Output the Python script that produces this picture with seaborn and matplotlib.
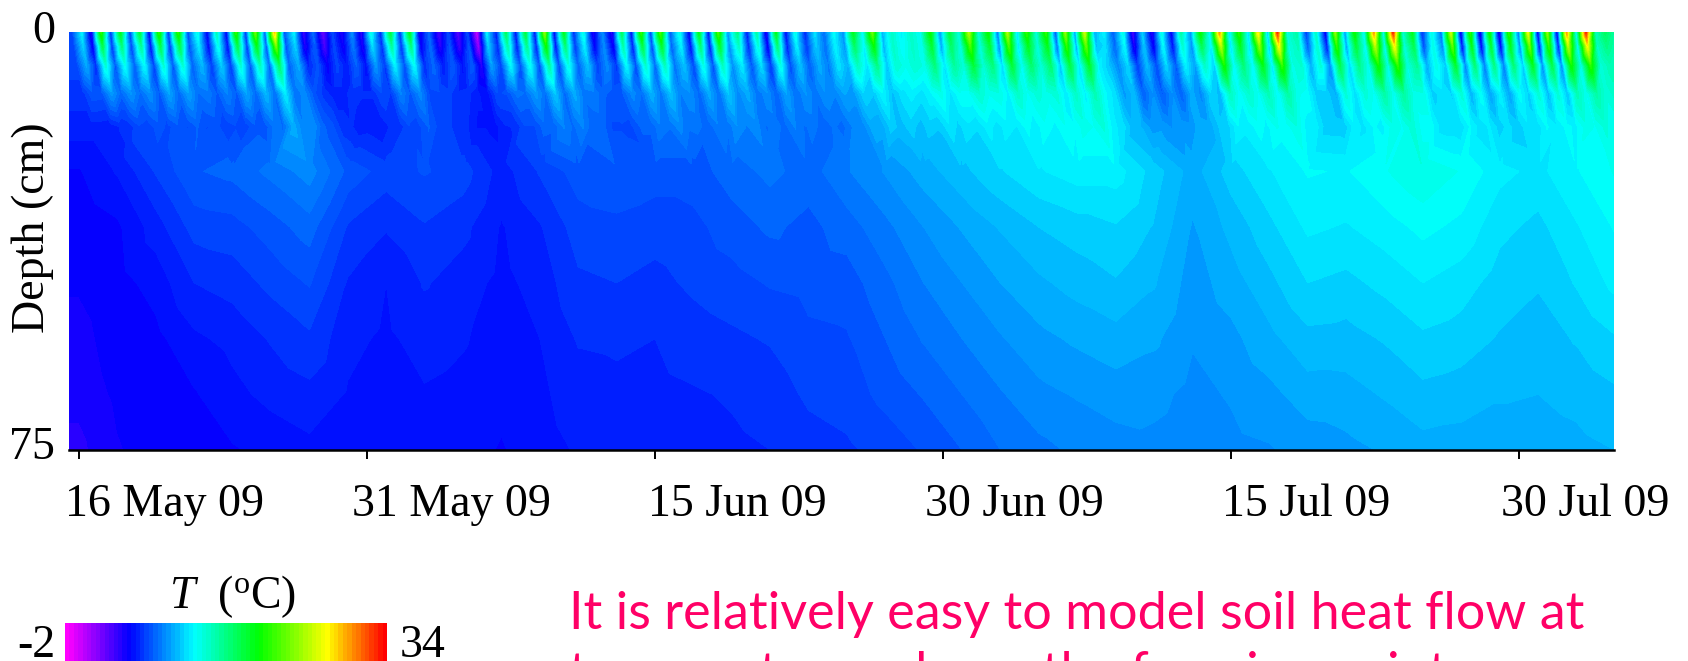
import numpy as np
import seaborn as sns
import matplotlib
matplotlib.use('Agg')
from matplotlib import pyplot as plt
from matplotlib.colors import LinearSegmentedColormap
from matplotlib.transforms import ScaledTranslation

# soil temperature (deg C), one peak and one trough per day
peaks_0cm = [12, 21, 19, 18, 21, 21, 13, 14.5, 21, 23, 29, 12, 8, 7, 9, 13, 18, 19, 8, 7,
             7, 12, 17, 18, 24, 19, 13, 9, 17, 21, 22, 13, 19, 22, 16, 15, 19, 13, 11.5, 12.5,
             19, 23, 14, 14, 20, 18, 25, 20, 25, 21, 21, 24, 26, 12, 13, 11, 13, 15, 20, 30,
             21, 28, 33, 15, 14, 24, 20, 30, 33, 19, 13, 26, 21, 20, 21, 27, 24, 30, 33, 17]
troughs_0cm = [3.5, 6, 6.5, 4.5, 6, 7, 4.5, 4.5, 6, 7, 7, 3, 2, 4, 3.5, 6, 6, 4, 3, 2.5,
               -1, 5.5, 5, 5, 4.5, 6, 4, 3.5, 5, 6.5, 7.5, 4.5, 5, 9, 5.5, 3.5, 5, 6, 8, 9,
               12, 10, 12, 12.5, 9, 13, 13, 8, 11, 13, 7, 9, 10, 7.5, 2.5, 3.5, 4.5, 9, 12, 11,
               11, 10, 13, 6.5, 4, 9, 12, 12, 13, 6, 8, 3.5, 3, 3, 8, 4, 4, 12, 14, 15]

peaks_2cm = [11, 17.5, 16, 15.3, 17.5, 17.5, 11.7, 12.8, 17.5, 19, 23.2, 11, 7.7, 7, 8.4, 11.3, 15.2, 16, 8, 7.3,
             7.3, 10.9, 14.8, 15.5, 19.8, 16.2, 11.9, 9, 14.8, 17.6, 18.4, 11.9, 16.2, 18.4, 14, 13.3, 16.2, 11.9, 10.8, 12,
             16.8, 19.6, 13.9, 13.9, 18.2, 16.7, 21.8, 18.2, 21.8, 18.9, 18.9, 21, 22.5, 11.4, 12.2, 10.7, 12.2, 13.6, 17.2, 25.2,
             18.8, 23.8, 27.4, 14.4, 13.7, 20.9, 18, 25.2, 27.4, 17.3, 13, 22.4, 18.8, 18, 18.8, 23, 20.9, 25.2, 27.4, 15.9]
troughs_2cm = [4.3, 6.4, 6.8, 5.1, 6.4, 7.2, 5.1, 5.1, 6.4, 7.2, 7.2, 3.8, 2.8, 4.5, 4, 6.2, 6.3, 4.6, 3.8, 3.3,
               0.4, 5.9, 5.6, 5.6, 5.2, 6.5, 4.8, 4.3, 5.6, 6.9, 7.7, 5.2, 5.6, 9, 6, 4.3, 5.6, 6.5, 8.2, 9.3,
               11.9, 10.2, 12.2, 12.7, 9.7, 13, 13, 8.8, 11.4, 13, 8, 9.7, 10.5, 7.9, 3.6, 4.5, 5.3, 9.2, 11.7, 11.3,
               11.3, 10.5, 13, 7.5, 5.4, 9.6, 12.2, 12.2, 13, 7, 8.8, 4.9, 4.5, 4.5, 8.8, 5.4, 5.4, 12.2, 13.9, 14.7]

peaks_6cm = [9.9, 13.5, 12.7, 12.3, 13.5, 13.5, 10.3, 10.9, 13.5, 14.3, 16.7, 9.9, 7.4, 7, 7.8, 9.4, 12, 12.4, 8, 7.6,
             7.6, 9.6, 12.2, 12.6, 15, 13, 10.6, 9, 12.2, 13.8, 14.2, 10.6, 13, 14.2, 11.8, 11.4, 13, 10.6, 10, 11.6,
             14.2, 15.8, 13.7, 13.7, 16.1, 15.3, 18, 16.1, 18, 16.5, 16.5, 17.7, 18.5, 10.8, 11.2, 10.4, 11.2, 12, 14, 20,
             16.2, 19, 21, 13.8, 13.4, 17.4, 15.8, 20, 21, 15.4, 13, 18.2, 16.2, 15.8, 16.2, 18.6, 17.4, 20, 21, 14.6]
troughs_6cm = [6.3, 7.4, 7.6, 6.7, 7.4, 7.8, 6.7, 6.7, 7.4, 7.8, 7.8, 6, 4.8, 5.7, 5.4, 6.6, 7.1, 6.2, 5.8, 5.5,
               3.9, 6.9, 7.2, 7.2, 7, 7.7, 6.8, 6.5, 7.2, 7.9, 8.3, 7, 7.2, 9, 7.4, 6.5, 7.2, 7.7, 8.6, 10.1,
               11.5, 10.6, 12.8, 13, 11.5, 13.3, 13.3, 11.2, 12.4, 13.3, 10.6, 11.5, 12, 8.9, 6.6, 7.1, 7.5, 9.6, 10.9, 12.1,
               12.1, 11.7, 13, 10.1, 9, 11.2, 12.6, 12.6, 13, 9.9, 10.8, 8.7, 8.5, 8.5, 10.8, 9, 9, 12.6, 13.4, 13.9]

peaks_11cm = [7.6, 9.5, 9.3, 9.2, 9.8, 9.7, 8.6, 8.8, 9.8, 10.3, 11.8, 9, 6.5, 6, 6.3, 7.2, 8.8, 9, 7.2, 6.3,
              5.8, 7.2, 8.4, 9.5, 10.8, 10, 8.6, 7.5, 9, 10.2, 10.6, 9.2, 10, 10.8, 10, 9.2, 9.8, 9.3, 9.2, 9.8,
              11.2, 12.2, 11.5, 11.5, 13, 12.7, 13.8, 13.2, 14, 13.5, 13.5, 14, 14.5, 11.5, 10.5, 9.2, 9.2, 10, 11.2, 14.2,
              13.8, 14.5, 15, 12.5, 11, 13.5, 13.5, 15, 15.2, 13.2, 11.5, 13.5, 12.5, 12, 12.5, 13.5, 13.5, 14.5, 15, 14]
troughs_11cm = [7.5, 8, 8.1, 7.6, 8, 8.2, 7.6, 7.6, 8, 8.2, 8.3, 7.4, 6, 6.5, 6.3, 6.7, 7.6, 7.1, 6.9, 6.4,
                5.5, 7.3, 8.2, 8.2, 8, 8.4, 7.9, 7.7, 8.2, 8.5, 8.7, 8, 8.2, 9, 8.3, 7.8, 8.2, 8.4, 8.8, 9.5,
                10.8, 10.6, 12, 12.2, 11.6, 12.7, 12.8, 12, 12.6, 13, 11.7, 12, 12.4, 9.5, 7.7, 7.6, 7.8, 9, 10.5, 12.4,
                12.6, 12.2, 12.9, 10.9, 10.1, 11.4, 12.6, 12.6, 13, 11, 11.2, 10.2, 9.7, 9.8, 11, 10.4, 10.6, 12.7, 13.4, 13.5]

peaks_17cm = [6, 6.3, 7.2, 7.5, 7.6, 7.8, 7.4, 7.2, 7.6, 8.4, 10, 9.2, 7.4, 6.3, 6, 6.3, 7.2, 7.8, 7, 6.3,
              5.7, 6.2, 7.2, 8, 8.8, 8.8, 8, 7.2, 7.8, 8.6, 9, 8.4, 8.6, 9.2, 9, 8.4, 8.8, 8.4, 8.3, 8.8,
              10, 11, 11, 11, 11.6, 11.6, 12, 12, 12.4, 12.6, 12.7, 13, 13.4, 11.5, 10.2, 9.6, 9.6, 10, 10.8, 12.2,
              12.5, 12.8, 13.2, 12, 11, 12, 12.3, 13, 13.5, 12.5, 11.5, 12.3, 11.8, 11.4, 11.6, 12.3, 12.4, 13, 13.4, 13]
troughs_17cm = [5.9, 6.5, 7, 7.1, 7.2, 7.2, 6.9, 6.9, 7.4, 8.2, 8.8, 7.9, 6.5, 5.9, 5.8, 6.4, 7.1, 7.1, 6.3, 5.7,
                5.6, 6.3, 7.2, 7.9, 8.1, 7.9, 7.2, 7.1, 7.8, 8.3, 8.3, 7.9, 8.3, 8.7, 8.2, 8.1, 8.2, 7.9, 8.1, 8.9,
                9.9, 10.5, 10.5, 10.8, 11.1, 11.3, 11.5, 11.7, 12, 12.1, 12.3, 12.7, 11.9, 10.4, 9.5, 9.2, 9.4, 9.9, 11.1, 11.9,
                12.1, 12.5, 12.1, 11, 10.9, 11.6, 12.1, 12.7, 12.5, 11.5, 11.3, 11.5, 11, 10.9, 11.4, 11.8, 12.1, 12.7, 12.7, 12.9]

# deep rows, one value every two days from 16 May
deep_25cm = [5.2, 5.8, 6.8, 7.7, 7.9, 8.4, 9, 7.6, 7, 7.3, 7, 6, 6.8, 7.5, 7.7, 7.5, 7.5, 8, 8.4, 8,
             8.7, 9.3, 10, 10.6, 11.2, 11.7, 12, 12, 11, 10, 11, 11.7, 12.3, 12.2, 12.7, 13.2, 12.7, 11.9, 11.6, 12.2, 12.8]
deep_35cm = [4.85, 5.15, 6, 6.95, 7.05, 7.5, 8, 6.7, 6.3, 6.7, 6.4, 5.7, 6.2, 7, 7.1, 6.95, 7.1, 7.5, 7.85, 7.6,
             8, 8.6, 9.25, 9.8, 10.3, 10.75, 11, 11.2, 10.7, 9.7, 10.4, 11.1, 11.85, 11.7, 12, 12.4, 12.1, 11.4, 11.1, 11.7, 12.3]
deep_45cm = [4.8, 5.05, 5.45, 6.25, 6.45, 6.9, 7.3, 6.2, 5.75, 6.3, 6, 5.6, 5.95, 6.65, 6.75, 6.6, 6.85, 7.05, 7.3, 7.4,
             7.5, 8.1, 8.75, 9.25, 9.75, 10.15, 10.45, 10.7, 10.3, 9.5, 10, 10.6, 11.25, 11.1, 11.4, 11.75, 11.5, 11, 10.8, 11.3, 11.9]
deep_55cm = [4.6, 4.95, 5.1, 5.65, 5.9, 6.3, 6.65, 5.9, 5.65, 5.95, 5.8, 5.5, 5.75, 6.3, 6.35, 6.25, 6.5, 6.65, 6.8, 7.15,
             7.2, 7.75, 8.3, 8.75, 9.2, 9.6, 9.85, 10.05, 9.85, 9.3, 9.6, 10.1, 10.6, 10.55, 10.8, 11.15, 11, 10.7, 10.5, 10.8, 11.2]
deep_65cm = [4.4, 4.85, 5, 5.2, 5.6, 5.9, 6.1, 5.7, 5.6, 5.7, 5.6, 5.4, 5.65, 6, 6.1, 6.1, 6.2, 6.3, 6.45, 6.85,
             7, 7.4, 7.8, 8.25, 8.7, 9.1, 9.3, 9.5, 9.4, 9.1, 9.3, 9.6, 10, 10.05, 10.3, 10.6, 10.5, 10.3, 10.25, 10.4, 10.65]
deep_75cm = [4.1, 4.7, 5, 5.02, 5.2, 5.4, 5.6, 5.55, 5.55, 5.5, 5.5, 5.2, 5.55, 5.8, 5.9, 6, 6.1, 6.15, 6.25, 6.5,
             6.65, 6.95, 7.3, 7.75, 8.25, 8.6, 8.85, 9, 9.1, 8.95, 9.1, 9.2, 9.45, 9.6, 9.8, 10.05, 10, 10, 10, 10.1, 10.25]

tick_days = [0, 15, 30, 45, 60, 75]
tick_labels = ['16 May 09', '31 May 09', '15 Jun 09', '30 Jun 09', '15 Jul 09', '30 Jul 09']
label_shift_px = [-14, -15, -7.5, -18, -9, -18]
cbar_colors = [(0, '#ff00ff'), (0.196, '#0000ff'), (0.40, '#00ffff'), (0.606, '#00ff00'), (0.82, '#ffff00'), (1, '#ff0000')]
t_min, t_max = -2, 34

W, H = 1688, 661
DAY_PX = 19.2
DAY0_PX = 79
LEFT, RIGHT, TOP, BOTTOM = 69, 1614, 32, 450

sns.set_theme(style='ticks')
plt.rcParams['font.family'] = ['Liberation Serif', 'DejaVu Serif']
plt.rcParams['mathtext.fontset'] = 'custom'
plt.rcParams['mathtext.rm'] = 'Liberation Serif'
plt.rcParams['mathtext.it'] = 'Liberation Serif:italic'

cmap = LinearSegmentedColormap.from_list('soil', cbar_colors, N=256)


def add_row(depth, x, z):
    # edge copies so that the field fills the axes left and right
    x = np.r_[-4, x, 84]
    z = np.r_[z[0], z, z[-1]]
    return x, np.full(len(x), depth), z


def half_day_row(depth, lag, peaks, troughs, first):
    peak_t = 0.14 + np.arange(len(peaks)) * 1.0044 + lag
    x = [peak_t[0] - 0.5]
    z = [first]
    for p_t, p, tr in zip(peak_t, peaks, troughs):
        x += [p_t, p_t + 0.5]
        z += [p, tr]
    return add_row(depth, x, z)


rows = [
    half_day_row(0, 0, peaks_0cm, troughs_0cm, 7),
    half_day_row(2.5, 0.08, peaks_2cm, troughs_2cm, 7),
    half_day_row(6, 0.25, peaks_6cm, troughs_6cm, 7),
    half_day_row(11, 0.55, peaks_11cm, troughs_11cm, 6.5),
    half_day_row(17, 1.0, peaks_17cm, troughs_17cm, 6),
    add_row(25, 2.0 * np.arange(41), deep_25cm),
    add_row(35, 2.0 * np.arange(41), deep_35cm),
    add_row(45, 2.0 * np.arange(41), deep_45cm),
    add_row(55, 2.0 * np.arange(41), deep_55cm),
    add_row(65, 2.0 * np.arange(41), deep_65cm),
    add_row(75, 2.0 * np.arange(41), deep_75cm),
]
days = np.concatenate([r[0] for r in rows])
depths = np.concatenate([r[1] for r in rows])
temps = np.concatenate([r[2] for r in rows])

fig = plt.figure(figsize=(W / 100, H / 100), dpi=100)
ax = fig.add_axes([LEFT / W, 1 - BOTTOM / H, (RIGHT - LEFT) / W, (BOTTOM - TOP) / H])
ax.tricontourf(days, depths, temps, levels=np.arange(t_min - 0.25, t_max + 0.5, 0.5), cmap=cmap, vmin=t_min, vmax=t_max)
ax.set_xlim((LEFT - DAY0_PX) / DAY_PX, (RIGHT - DAY0_PX) / DAY_PX)
ax.set_ylim(75, 0)
ax.set_yticks([])
ax.set_xticks(tick_days)
ax.set_xticklabels(tick_labels, ha='left', va='baseline', fontsize=33)
ax.tick_params(axis='x', length=6.5, width=1.4, pad=41, color='black', labelcolor='black')
for label, shift in zip(ax.get_xticklabels(), label_shift_px):
    label.set_transform(label.get_transform() + ScaledTranslation(shift / 100, 0, fig.dpi_scale_trans))
sns.despine(ax=ax, left=True)
ax.spines['bottom'].set_linewidth(1.8)
ax.spines['bottom'].set_color('black')


def px_text(x, y, s, **kw):
    fig.text(x / W, 1 - y / H, s, va='baseline', color=kw.pop('color', 'black'), fontsize=kw.pop('fontsize', 33), **kw)


px_text(55, 43, '0', ha='right')
px_text(55, 459, '75', ha='right')
px_text(44, 228, 'Depth (cm)', ha='center', rotation=90, rotation_mode='anchor')

# colour scale along the lower edge of the figure
cax = fig.add_axes([65 / W, 0, 322 / W, 38.5 / H])
sns.heatmap([np.arange(t_min, t_max + 0.5, 0.5)], cmap=cmap, vmin=t_min, vmax=t_max, cbar=False,
            xticklabels=False, yticklabels=False, ax=cax)
px_text(169, 608, r'$\mathit{T}$  ($^{\mathrm{o}}$C)')
px_text(55, 657, '-2', ha='right')
px_text(400, 657, '34')

px_text(569, 629, 'It is relatively easy to model soil heat flow at', color='#ff0066', fontsize=37.5, family='Lato')
px_text(569, 689, 'temperatures above the freezing point', color='#ff0066', fontsize=37.5, family='Lato')

fig.savefig('out.png', dpi=100)
